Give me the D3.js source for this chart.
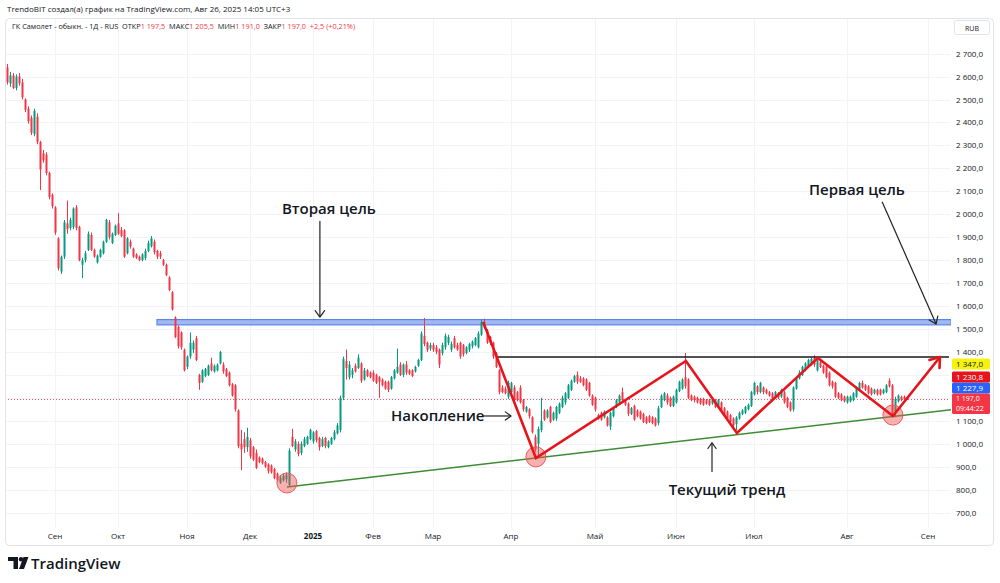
<!DOCTYPE html>
<html>
<head>
<meta charset="utf-8">
<script src="https://cdn.jsdelivr.net/npm/d3@7"></script>
<style>
  body { margin: 0; background: #fff; }
  svg { display: block; font-family: "Open Sans", sans-serif; }
</style>
</head>
<body>
<svg id="chart" width="1000" height="583"></svg>
<script>
// daily candles, late Aug 2024 .. 26 Aug 2025 (bar index 0..300)
const opens = [
  2640,2570,2605,2550,2600,2575,2500,2460,2420,2350,
  2425,2315,2265,2260,2180,2085,2030,1895,1750,1815,
  1960,1940,1945,2030,1945,1780,1800,1845,1910,1845,
  1790,1815,1830,1880,1965,1875,1910,1960,1930,1930,
  1830,1880,1850,1825,1815,1800,1810,1840,1860,1880,
  1840,1830,1800,1780,1725,1660,1550,1510,1485,1410,
  1335,1380,1410,1460,1300,1270,1295,1300,1350,1315,
  1320,1350,1345,1325,1310,1260,1255,1145,1000,1020,
  985,1015,985,960,940,935,920,910,905,890,
  870,830,840,845,820,1030,975,1000,960,990,
  1000,1020,1010,1055,1025,990,1025,985,1000,1020,
  1045,1060,1200,1360,1290,1300,1340,1330,1350,1280,
  1320,1310,1310,1300,1290,1280,1270,1270,1240,1285,
  1310,1345,1300,1345,1320,1320,1315,1340,1365,1470,
  1440,1415,1430,1420,1410,1395,1420,1440,1410,1460,
  1430,1440,1430,1395,1410,1425,1430,1420,1475,1530,
  1495,1465,1440,1395,1320,1245,1240,1205,1225,1245,
  1225,1245,1190,1140,1150,1115,1030,1000,1060,1145,
  1115,1160,1105,1110,1135,1160,1180,1200,1235,1270,
  1300,1285,1285,1280,1265,1210,1200,1125,1135,1115,
  1115,1075,1120,1160,1180,1225,1190,1175,1130,1165,
  1145,1140,1130,1115,1120,1115,1110,1090,1160,1190,
  1210,1200,1165,1180,1230,1240,1290,1280,1210,1205,
  1200,1195,1195,1190,1190,1175,1190,1160,1180,1155,
  1140,1125,1110,1085,1110,1130,1135,1150,1165,1215,
  1250,1225,1245,1235,1225,1220,1205,1220,1205,1225,
  1200,1180,1150,1240,1285,1300,1320,1335,1345,1375,
  1320,1355,1340,1335,1310,1270,1265,1220,1215,1205,
  1180,1185,1190,1205,1235,1265,1255,1250,1240,1220,
  1235,1235,1220,1225,1275,1255,1140,1185,1205,1205,
  1197.5
];
const highs = [
  2655,2620,2615,2610,2615,2590,2505,2470,2430,2460,
  2440,2320,2280,2270,2185,2090,2035,1900,1820,1975,
  2060,1985,2030,2040,1950,1810,1840,1925,1920,1850,
  1825,1850,1885,1980,1975,1920,1955,2005,1945,1935,
  1900,1890,1855,1830,1820,1830,1850,1885,1905,1890,
  1845,1840,1805,1785,1730,1665,1555,1515,1490,1415,
  1385,1485,1450,1470,1305,1325,1330,1345,1375,1345,
  1350,1405,1355,1330,1315,1265,1260,1150,1060,1050,
  1070,1025,990,975,945,940,925,915,910,895,
  875,860,870,875,980,1065,1020,1010,1010,1030,
  1035,1065,1055,1060,1030,1030,1030,1015,1030,1060,
  1090,1210,1380,1410,1360,1330,1350,1390,1355,1330,
  1325,1315,1320,1305,1295,1285,1275,1275,1295,1325,
  1415,1355,1350,1360,1325,1325,1340,1370,1490,1548,
  1445,1440,1440,1430,1415,1440,1480,1475,1445,1470,
  1440,1445,1435,1425,1440,1450,1465,1490,1540,1545,
  1500,1470,1445,1400,1325,1255,1250,1275,1270,1255,
  1230,1255,1195,1165,1155,1120,1040,1075,1200,1150,
  1150,1165,1140,1165,1180,1210,1225,1260,1280,1300,
  1315,1295,1290,1285,1270,1215,1205,1130,1140,1145,
  1120,1140,1160,1195,1215,1245,1195,1180,1160,1170,
  1150,1145,1135,1120,1125,1120,1115,1165,1215,1225,
  1220,1205,1210,1240,1275,1285,1395,1285,1215,1210,
  1205,1200,1200,1195,1195,1195,1195,1195,1185,1160,
  1145,1130,1115,1120,1140,1150,1165,1175,1230,1270,
  1255,1270,1250,1240,1230,1225,1230,1225,1240,1230,
  1205,1185,1250,1290,1320,1340,1355,1370,1375,1385,
  1370,1360,1345,1340,1315,1275,1270,1225,1220,1210,
  1210,1210,1225,1250,1270,1275,1260,1255,1245,1240,
  1240,1240,1240,1260,1285,1260,1205,1215,1210,1210,
  1205.5
];
const lows = [
  2565,2555,2545,2540,2560,2500,2445,2395,2345,2340,
  2305,2105,2225,2170,2065,2025,1910,1755,1740,1805,
  1915,1930,1935,1930,1795,1722,1790,1840,1840,1810,
  1785,1810,1825,1875,1890,1870,1905,1910,1900,1810,
  1825,1850,1810,1805,1795,1795,1800,1835,1855,1825,
  1805,1805,1775,1730,1665,1580,1460,1415,1410,1315,
  1325,1370,1395,1360,1235,1265,1290,1295,1315,1310,
  1315,1345,1305,1290,1250,1205,1140,980,885,960,
  965,935,925,890,915,910,895,870,870,845,
  835,825,835,830,812,985,965,945,950,985,
  995,1015,1000,1005,970,985,980,980,995,1015,
  1040,1050,1190,1280,1280,1285,1310,1325,1265,1275,
  1290,1285,1270,1260,1200,1250,1235,1225,1235,1280,
  1305,1295,1290,1300,1300,1290,1310,1335,1360,1425,
  1400,1405,1400,1390,1330,1385,1410,1430,1400,1415,
  1405,1370,1380,1390,1400,1415,1425,1415,1470,1500,
  1435,1430,1370,1330,1215,1220,1215,1195,1220,1180,
  1185,1175,1140,1135,1110,1045,965,945,1050,1100,
  1110,1090,1100,1100,1130,1155,1170,1195,1230,1265,
  1260,1265,1250,1230,1205,1165,1140,1105,1100,1110,
  1075,1060,1115,1155,1175,1185,1165,1120,1125,1100,
  1115,1105,1090,1085,1090,1085,1075,1080,1155,1185,
  1170,1160,1160,1175,1225,1235,1240,1195,1185,1180,
  1175,1170,1165,1170,1165,1170,1155,1155,1140,1120,
  1105,1090,1075,1060,1105,1125,1130,1145,1160,1210,
  1215,1220,1215,1215,1205,1185,1200,1195,1200,1175,
  1155,1140,1140,1235,1280,1295,1315,1330,1340,1335,
  1315,1330,1305,1285,1250,1240,1200,1195,1185,1180,
  1175,1180,1185,1200,1230,1240,1230,1215,1210,1215,
  1210,1210,1215,1220,1245,1120,1115,1180,1185,1185,
  1191
];
const closes = [
  2575,2605,2550,2600,2570,2510,2455,2405,2355,2450,
  2315,2195,2235,2180,2075,2035,1920,1765,1815,1965,
  1935,1975,2025,1940,1800,1800,1830,1915,1845,1815,
  1820,1845,1880,1975,1900,1915,1950,1915,1905,1815,
  1895,1860,1815,1810,1800,1825,1840,1875,1895,1835,
  1815,1815,1780,1735,1670,1585,1465,1425,1420,1320,
  1380,1440,1440,1365,1265,1320,1325,1340,1320,1340,
  1345,1400,1315,1295,1255,1210,1150,990,975,985,
  1030,945,930,895,920,915,900,880,875,850,
  840,850,860,865,970,990,1010,955,1000,1020,
  1030,1060,1050,1015,985,1020,990,1010,1025,1050,
  1080,1200,1370,1330,1345,1320,1315,1375,1275,1320,
  1295,1290,1275,1265,1270,1255,1240,1235,1290,1320,
  1335,1300,1345,1310,1305,1295,1335,1365,1480,1435,
  1410,1430,1410,1400,1345,1430,1470,1465,1435,1420,
  1410,1380,1390,1420,1435,1445,1460,1480,1530,1505,
  1440,1440,1380,1335,1225,1225,1220,1265,1265,1190,
  1190,1180,1150,1160,1120,1050,975,1065,1100,1105,
  1145,1095,1135,1160,1175,1200,1220,1255,1275,1295,
  1270,1270,1255,1235,1210,1170,1150,1110,1105,1140,
  1080,1135,1155,1190,1210,1190,1170,1130,1155,1105,
  1120,1110,1095,1090,1095,1090,1080,1155,1210,1220,
  1180,1165,1205,1235,1270,1280,1250,1200,1190,1190,
  1180,1175,1170,1175,1170,1190,1160,1190,1145,1125,
  1110,1095,1080,1115,1135,1145,1160,1170,1225,1265,
  1225,1265,1225,1220,1210,1190,1225,1200,1235,1180,
  1160,1145,1245,1285,1310,1335,1350,1365,1370,1345,
  1365,1335,1310,1290,1255,1250,1205,1200,1190,1185,
  1205,1205,1220,1245,1265,1245,1235,1220,1215,1235,
  1215,1215,1235,1255,1250,1130,1195,1210,1190,1194.5,
  1197
];

// time axis: first bar of each month
const monthLabels = ["Сен","Окт","Ноя","Дек","2025","Фев","Мар","Апр","Май","Июн","Июл","Авг","Сен"];
const monthBars = [16, 37, 60, 81, 102, 122, 142, 168, 196, 223, 249, 280, 307];
const priceTicks = [700,800,900,1000,1100,1200,1300,1400,1500,1600,1700,1800,1900,2000,2100,2200,2300,2400,2500,2600,2700];

// drawings (bar index, price)
const zigzag = [[158.7,1531],[176.3,938],[226.3,1361],[243.3,1047],[270.3,1374],[295.3,1121],[311,1378]];
const trendLine = [[93.3,812],[314.7,1148]];
const resistance = { from: 163.3, to: 314, price: 1378 };
const targetBand = { from: 50, to: 314.7, low: 1518, high: 1541 };
const touches = [[93.3,829],[176.3,943],[295.3,1125]];

// axis price labels (bottom to top after the last-price label)
const markers = [
  { price: 1227.9, fill: "#2962ff", text: "#fff" },
  { price: 1230.8, fill: "#e8141c", text: "#fff" },
  { price: 1347.0, fill: "#f5f20f", text: "#131722" }
];
const countdown = "09:44:22";

const svg = d3.select("#chart");
const plotL = 5, plotR = 950, plotT = 18, plotB = 528;

const x = d3.scaleLinear().domain([0, 300]).range([7, 907]);
const y = d3.scaleLinear().domain([700, 2700]).range([512.6, 53.6]);

const ru = d3.formatLocale({ decimal: ",", thousands: "\u00a0", grouping: [3], currency: ["", ""] });
const fmt = ru.format(",.1f");

const UP = "#089981", DOWN = "#f23645", TXT = "#131722";
const last = closes.length - 1;

// stack the axis labels so they don't overlap
const cpY = y(closes[last]);
const boxH = 11, cpH = 20.5;
let topEdge = cpY - 5;
const boxes = [{ c: cpY - 5 + cpH / 2, h: cpH }];
markers.forEach(m => {
  const c = Math.min(y(m.price), topEdge - boxH / 2);
  m.cy = c;
  topEdge = c - boxH / 2;
  boxes.push({ c: c, h: boxH });
});

// frame
svg.append("rect").attr("x", 5.5).attr("y", 18.5).attr("width", 988).attr("height", 527)
  .attr("rx", 4).attr("fill", "none").attr("stroke", "#e0e3eb");

svg.append("defs").append("clipPath").attr("id", "plot")
  .append("rect").attr("x", plotL + 1).attr("y", plotT + 1).attr("width", plotR - plotL).attr("height", plotB - plotT);

// grid
const grid = svg.append("g").attr("clip-path", "url(#plot)");
grid.selectAll(".hg").data(priceTicks).enter().append("line")
  .attr("x1", plotL).attr("x2", plotR)
  .attr("y1", d => Math.round(y(d)) + 0.5).attr("y2", d => Math.round(y(d)) + 0.5)
  .attr("stroke", "#f0f3fa");
grid.selectAll(".vg").data(monthBars).enter().append("line")
  .attr("x1", d => Math.round(x(d)) + 0.5).attr("x2", d => Math.round(x(d)) + 0.5)
  .attr("y1", plotT).attr("y2", plotB)
  .attr("stroke", "#f0f3fa");

// price axis labels (hidden under the marker boxes)
const visibleTicks = priceTicks.filter(t => boxes.every(b => Math.abs(y(t) - b.c) > b.h / 2 + 4));
svg.append("g").selectAll("text").data(visibleTicks).enter().append("text")
  .attr("x", 956).attr("y", d => y(d) + 3)
  .attr("font-size", 8).attr("fill", TXT)
  .text(d => fmt(d));

// RUB box
svg.append("rect").attr("x", 954.5).attr("y", 20.5).attr("width", 35).attr("height", 14)
  .attr("rx", 2).attr("fill", "#fff").attr("stroke", "#e0e3eb");
svg.append("text").attr("x", 972).attr("y", 30.5).attr("text-anchor", "middle")
  .attr("font-size", 7).attr("fill", TXT).text("RUB");

// time axis labels
svg.append("g").selectAll("text").data(monthLabels).enter().append("text")
  .attr("x", (d, i) => x(monthBars[i])).attr("y", 539)
  .attr("text-anchor", "middle").attr("font-size", 8)
  .attr("font-weight", d => d === "2025" ? 700 : 400)
  .attr("fill", TXT).text(d => d);

const plot = svg.append("g").attr("clip-path", "url(#plot)");

// target band
plot.append("rect")
  .attr("x", x(targetBand.from)).attr("width", x(targetBand.to) - x(targetBand.from))
  .attr("y", y(targetBand.high)).attr("height", y(targetBand.low) - y(targetBand.high))
  .attr("fill", "#9fb8f2").attr("stroke", "#5b84e8").attr("stroke-width", 1.2);

// current price dotted line
plot.append("line").attr("x1", plotL).attr("x2", plotR)
  .attr("y1", Math.round(cpY) + 0.5).attr("y2", Math.round(cpY) + 0.5)
  .attr("stroke", DOWN).attr("stroke-dasharray", "1,2").attr("opacity", 0.8);

// candles
const idx = d3.range(opens.length);
plot.append("g").selectAll("line").data(idx).enter().append("line")
  .attr("x1", i => Math.round(x(i)) + 0.5).attr("x2", i => Math.round(x(i)) + 0.5)
  .attr("y1", i => y(highs[i])).attr("y2", i => y(lows[i]))
  .attr("stroke", i => closes[i] >= opens[i] ? UP : DOWN).attr("stroke-width", 1);
plot.append("g").selectAll("rect").data(idx).enter().append("rect")
  .attr("x", i => Math.round(x(i)) - 0.5).attr("width", 2)
  .attr("y", i => y(Math.max(opens[i], closes[i])))
  .attr("height", i => Math.max(1, Math.abs(y(opens[i]) - y(closes[i]))))
  .attr("fill", i => closes[i] >= opens[i] ? UP : DOWN);

// trend line (green)
plot.append("line")
  .attr("x1", x(trendLine[0][0])).attr("y1", y(trendLine[0][1]))
  .attr("x2", x(trendLine[1][0])).attr("y2", y(trendLine[1][1]))
  .attr("stroke", "#3c8c34").attr("stroke-width", 1.5);

// resistance (black)
plot.append("line")
  .attr("x1", x(resistance.from)).attr("x2", x(resistance.to))
  .attr("y1", y(resistance.price)).attr("y2", y(resistance.price))
  .attr("stroke", "#1a1a1a").attr("stroke-width", 1.4);

// touch circles
plot.selectAll(".touch").data(touches).enter().append("circle")
  .attr("cx", d => x(d[0])).attr("cy", d => y(d[1])).attr("r", 10)
  .attr("fill", "rgba(242,80,80,0.45)").attr("stroke", "#f05a5a").attr("stroke-width", 1);

// zigzag (red) with arrow head
const zz = d3.line().x(d => x(d[0])).y(d => y(d[1]));
plot.append("path").attr("d", zz(zigzag))
  .attr("fill", "none").attr("stroke", "#e8141c").attr("stroke-width", 2.6)
  .attr("stroke-linejoin", "miter");

function arrowHead(g, x1, y1, x2, y2, len, color, width) {
  const a = Math.atan2(y2 - y1, x2 - x1);
  const s = Math.PI / 5;
  const p1 = [x2 - len * Math.cos(a - s), y2 - len * Math.sin(a - s)];
  const p2 = [x2 - len * Math.cos(a + s), y2 - len * Math.sin(a + s)];
  g.append("path").attr("d", `M${p1[0]},${p1[1]}L${x2},${y2}L${p2[0]},${p2[1]}`)
    .attr("fill", "none").attr("stroke", color).attr("stroke-width", width)
    .attr("stroke-linecap", "round").attr("stroke-linejoin", "round");
}
function arrow(g, a, b, color, width, len) {
  const x1 = x(a[0]), y1 = y(a[1]), x2 = x(b[0]), y2 = y(b[1]);
  g.append("line").attr("x1", x1).attr("y1", y1).attr("x2", x2).attr("y2", y2)
    .attr("stroke", color).attr("stroke-width", width);
  arrowHead(g, x1, y1, x2, y2, len, color, width);
}
const zn = zigzag.length;
arrowHead(svg, x(zigzag[zn - 2][0]), y(zigzag[zn - 2][1]), x(zigzag[zn - 1][0]), y(zigzag[zn - 1][1]), 11, "#e8141c", 2.6);

// annotations
const notes = svg.append("g").attr("font-size", 15).attr("font-weight", 600).attr("fill", "#131722");
notes.append("text").attr("x", x(107.3)).attr("y", y(2001)).attr("text-anchor", "middle").text("Вторая цель");
arrow(svg, [104.3, 1971], [104.3, 1552], "#222", 1.2, 8);
notes.append("text").attr("x", x(283.3)).attr("y", y(2084)).attr("text-anchor", "middle").text("Первая цель");
arrow(svg, [291.7, 2054], [309.7, 1522], "#222", 1.2, 8);
notes.append("text").attr("x", x(128)).attr("y", y(1099)).attr("text-anchor", "start").text("Накопление");
arrow(svg, [158.7, 1121], [168, 1121], "#222", 1.2, 7);
notes.append("text").attr("x", x(240)).attr("y", y(777)).attr("text-anchor", "middle").text("Текущий тренд");
arrow(svg, [235, 877], [235, 1004], "#222", 1.2, 7);

// axis markers
const mk = svg.append("g").attr("font-size", 8);
markers.forEach(m => {
  mk.append("rect").attr("x", 952).attr("y", m.cy - boxH / 2).attr("width", 38).attr("height", boxH)
    .attr("rx", 1.5).attr("fill", m.fill);
  mk.append("text").attr("x", 956).attr("y", m.cy + 3).attr("fill", m.text).text(fmt(m.price));
});
mk.append("rect").attr("x", 952).attr("y", cpY - 5).attr("width", 38).attr("height", cpH)
  .attr("rx", 1.5).attr("fill", DOWN);
mk.append("text").attr("x", 956).attr("y", cpY + 2.5).attr("font-size", 7).attr("fill", "#fff").text(fmt(closes[last]));
mk.append("text").attr("x", 956).attr("y", cpY + 12.5).attr("font-size", 7).attr("fill", "#fff").text(countdown);

// header
svg.append("text").attr("x", 7).attr("y", 12).attr("font-size", 8).attr("fill", TXT)
  .text("TrendoBIT создал(а) график на TradingView.com, Авг 26, 2025 14:05 UTC+3");

const change = closes[last] - closes[last - 1];
const pct = change / closes[last - 1] * 100;
const sign = v => (v >= 0 ? "+" : "");
const legend = svg.append("text").attr("x", 12).attr("y", 29).attr("font-size", 7.3)
  .attr("fill", TXT).attr("style", "white-space:pre");
const lg = [
  ["ГК Самолет - обыкн. - 1Д - RUS  ", TXT],
  ["ОТКР", TXT], [fmt(opens[last]), DOWN],
  ["  МАКС", TXT], [fmt(highs[last]), DOWN],
  ["  МИН", TXT], [fmt(lows[last]), DOWN],
  ["  ЗАКР", TXT], [fmt(closes[last]), DOWN],
  ["  " + sign(change) + ru.format(".1f")(change) + " (" + sign(pct) + ru.format(".2f")(pct) + "%)", DOWN]
];
lg.forEach(t => legend.append("tspan").attr("fill", t[1]).text(t[0]));

// TradingView logo
const logo = svg.append("g").attr("fill", "#131722");
logo.append("path").attr("d", "M8,557H18V569H13.5V561H8Z");
logo.append("circle").attr("cx", 21).attr("cy", 559.2).attr("r", 2.2);
logo.append("path").attr("d", "M23.5,557H28.5L24,569H19Z");
logo.append("text").attr("x", 31).attr("y", 569).attr("font-size", 15).attr("font-weight", 600)
  .text("TradingView");
</script>
</body>
</html>
